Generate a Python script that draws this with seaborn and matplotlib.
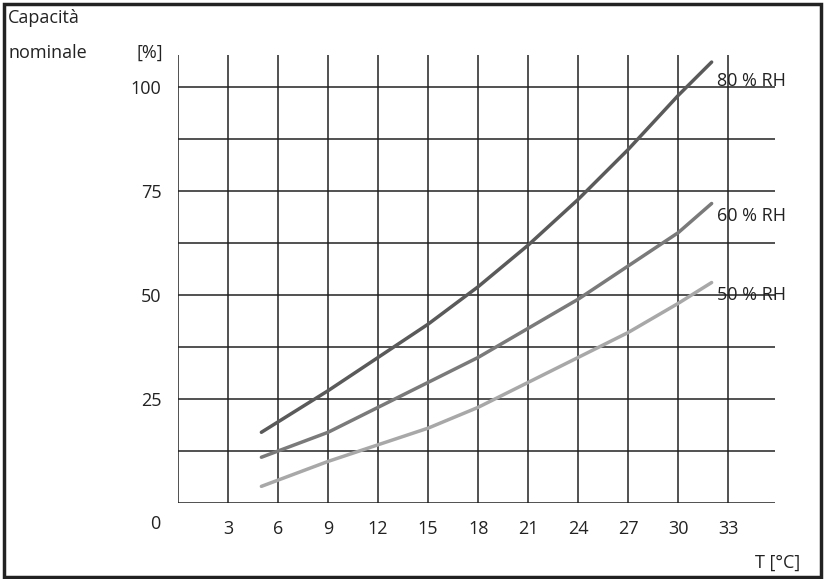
import matplotlib
matplotlib.use("Agg")
import matplotlib.pyplot as plt
from matplotlib.patches import Rectangle
import seaborn as sns
import pandas as pd

temps = [5, 9, 12, 15, 18, 21, 24, 27, 30, 32]
rh80 = [17, 27, 35, 43, 52, 62, 73, 85, 98, 106]
rh60 = [11, 17, 23, 29, 35, 42, 49, 57, 65, 72]
rh50 = [4, 10, 14, 18, 23, 29, 35, 41, 48, 53]
series_names = ["80 % RH", "60 % RH", "50 % RH"]
series_colors = ["#5a5a5a", "#7a7a7a", "#a8a8a8"]
x_ticks = [3, 6, 9, 12, 15, 18, 21, 24, 27, 30, 33]
y_ticks = [25, 50, 75, 100]

sns.set_theme(style="white")
plt.rcParams['font.family'] = ['Open Sans', 'DejaVu Sans']

fig = plt.figure(figsize=(8.26, 5.79), dpi=100)
fig.patches.append(Rectangle((4/826, 2/579), 817/826, 573/579, transform=fig.transFigure,
                             fill=False, edgecolor="#222222", lw=2.5))
ax = fig.add_axes([178/826, 76/579, (775-178)/826, (503-55)/579])

df = pd.DataFrame({"T": temps * 3,
                   "v": rh80 + rh60 + rh50,
                   "s": [series_names[0]]*len(temps) + [series_names[1]]*len(temps) + [series_names[2]]*len(temps)})

for xv in [0] + x_ticks:
    ax.axvline(xv, color="#222222", lw=1.1, zorder=1)
for k in range(0, 9):
    ax.axhline(k * 12.5, color="#222222", lw=1.1, zorder=1)

sns.lineplot(data=df, x="T", y="v", hue="s", palette=series_colors, ax=ax,
             lw=2.5, legend=False, zorder=3)

ax.set_xlim(0, 35.8)
ax.set_ylim(0, 107.7)
for sp in ax.spines.values():
    sp.set_visible(False)
ax.set_xticks(x_ticks)
ax.set_xticklabels([str(t) for t in x_ticks])
ax.set_yticks(y_ticks)
ax.set_yticklabels([str(t) for t in y_ticks])
ax.tick_params(length=0, labelsize=13, colors="#222222")
ax.tick_params(axis="x", pad=12)
ax.tick_params(axis="y", pad=12)
ax.set_xlabel("")
ax.set_ylabel("")

for name, vals in zip(series_names, [rh80, rh60, rh50]):
    ax.text(temps[-1] + 0.3, vals[-1] - 4.5 if name == "80 % RH" else vals[-1] - 3, name,
            fontsize=13, color="#222222", va="center", ha="left")

fig.text(155/826, 1 - 524/579, "0", fontsize=13, color="#222222", ha="center", va="center")
fig.text(8/826, 1 - 18/579, "Capacità", fontsize=13, color="#222222", ha="left", va="center")
fig.text(8/826, 1 - 53/579, "nominale", fontsize=13, color="#222222", ha="left", va="center")
fig.text(163/826, 1 - 53/579, "[%]", fontsize=13, color="#222222", ha="right", va="center")
fig.text(800/826, 1 - 563/579, "T [°C]", fontsize=13, color="#222222", ha="right", va="center")

fig.savefig("out.png", dpi=100)
